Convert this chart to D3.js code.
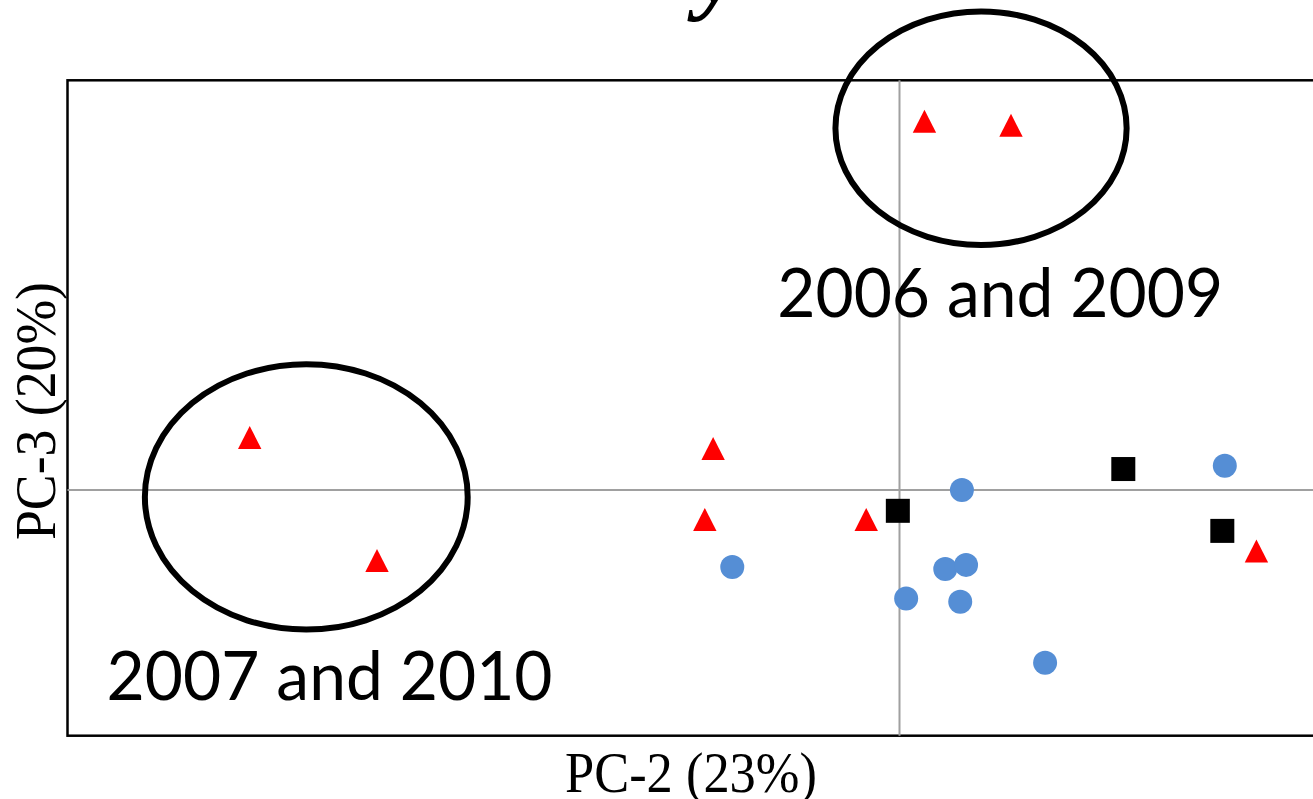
<!DOCTYPE html>
<html>
<head>
<meta charset="utf-8">
<script src="https://cdn.jsdelivr.net/npm/d3@7"></script>
<style>
  html, body { margin: 0; padding: 0; background: #fff; }
  svg { display: block; }
</style>
</head>
<body>
<div id="chart"></div>
<script>
// ============ Data (PC-2 vs PC-3 scores) ============
const triangleX = [0.030, 0.134, -0.781, -0.628, -0.224, -0.234, -0.040, 0.429];
const triangleY = [0.900, 0.890, 0.128, -0.172, 0.101, -0.072, -0.072, -0.149];

const circleX = [0.075, 0.391, -0.201, 0.055, 0.080, 0.008, 0.073, 0.175];
const circleY = [0.000, 0.059, -0.188, -0.193, -0.183, -0.265, -0.273, -0.422];

const squareX = [-0.002, 0.269, 0.388];
const squareY = [-0.051, 0.051, -0.100];

// grouping ellipses: centre x, centre y, radius x, radius y
const groupLabels = ['2006 and 2009', '2007 and 2010'];
const groupCx = [0.098, -0.713];
const groupCy = [0.883, -0.017];
const groupRx = [0.175, 0.194];
const groupRy = [0.285, 0.324];
const labelX = [-0.147, -0.953];
const labelY = [0.422, -0.513];

const xTitle = 'PC-2 (23%)';
const yTitle = 'PC-3 (20%)';

// ============ Layout ============
const W = 1313, H = 799;
const plotL = 67.5, plotT = 80.3, plotB = 735.7;

const x = d3.scaleLinear().domain([-1, 0.5]).range([plotL, 1315.5]);
const y = d3.scaleLinear().domain([-0.6, 1]).range([plotB, plotT]);

const svg = d3.select('#chart').append('svg')
  .attr('width', W).attr('height', H);

// title fragment (cut off at the top of the picture)
svg.append('text')
  .attr('x', 697).attr('y', 2)
  .attr('font-family', 'Liberation Serif')
  .attr('font-style', 'italic')
  .attr('font-weight', 'bold')
  .attr('font-size', 96)
  .attr('fill', '#000')
  .text('y');

// plot frame
svg.append('rect')
  .attr('x', plotL).attr('y', plotT)
  .attr('width', x(0.5) - plotL + 10)
  .attr('height', plotB - plotT)
  .attr('fill', 'none')
  .attr('stroke', '#000')
  .attr('stroke-width', 2.5);

// zero lines
svg.append('line')
  .attr('x1', x(0)).attr('x2', x(0))
  .attr('y1', plotT).attr('y2', plotB)
  .attr('stroke', '#a0a0a0').attr('stroke-width', 2);
svg.append('line')
  .attr('x1', plotL).attr('x2', W)
  .attr('y1', y(0)).attr('y2', y(0))
  .attr('stroke', '#a0a0a0').attr('stroke-width', 2);

// ── Markers ──
const pts = (xs, ys) => xs.map((v, i) => ({ x: v, y: ys[i] }));

svg.append('g').selectAll('circle')
  .data(pts(circleX, circleY)).enter().append('circle')
  .attr('cx', d => x(d.x)).attr('cy', d => y(d.y))
  .attr('r', 12)
  .attr('fill', '#558ED5');

svg.append('g').selectAll('rect')
  .data(pts(squareX, squareY)).enter().append('rect')
  .attr('x', d => x(d.x) - 12).attr('y', d => y(d.y) - 12)
  .attr('width', 24).attr('height', 24)
  .attr('fill', '#000');

svg.append('g').selectAll('path')
  .data(pts(triangleX, triangleY)).enter().append('path')
  .attr('d', 'M0,-11.5L11.7,11.5L-11.7,11.5Z')
  .attr('transform', d => `translate(${x(d.x)},${y(d.y)})`)
  .attr('fill', '#FF0000');

// ── Group ellipses + labels ──
const groups = groupLabels.map((t, i) => ({
  label: t, cx: groupCx[i], cy: groupCy[i], rx: groupRx[i], ry: groupRy[i],
  lx: labelX[i], ly: labelY[i]
}));

svg.append('g').selectAll('ellipse')
  .data(groups).enter().append('ellipse')
  .attr('cx', d => x(d.cx)).attr('cy', d => y(d.cy))
  .attr('rx', d => x(d.rx) - x(0)).attr('ry', d => y(0) - y(d.ry))
  .attr('fill', 'none')
  .attr('stroke', '#000')
  .attr('stroke-width', 6);

svg.append('g').selectAll('text')
  .data(groups).enter().append('text')
  .attr('x', d => x(d.lx)).attr('y', d => y(d.ly))
  .attr('font-family', 'Lato, "Open Sans", sans-serif')
  .attr('font-size', 67)
  .attr('textLength', 446)
  .attr('lengthAdjust', 'spacingAndGlyphs')
  .attr('fill', '#000')
  .text(d => d.label);

// ── Axis titles ──
svg.append('text')
  .attr('x', 565).attr('y', 792)
  .attr('font-family', 'Liberation Serif')
  .attr('font-size', 57)
  .attr('textLength', 252)
  .attr('lengthAdjust', 'spacingAndGlyphs')
  .text(xTitle);

svg.append('text')
  .attr('transform', 'translate(55,540) rotate(-90)')
  .attr('font-family', 'Liberation Serif')
  .attr('font-size', 57)
  .attr('textLength', 258)
  .attr('lengthAdjust', 'spacingAndGlyphs')
  .text(yTitle);
</script>
</body>
</html>
